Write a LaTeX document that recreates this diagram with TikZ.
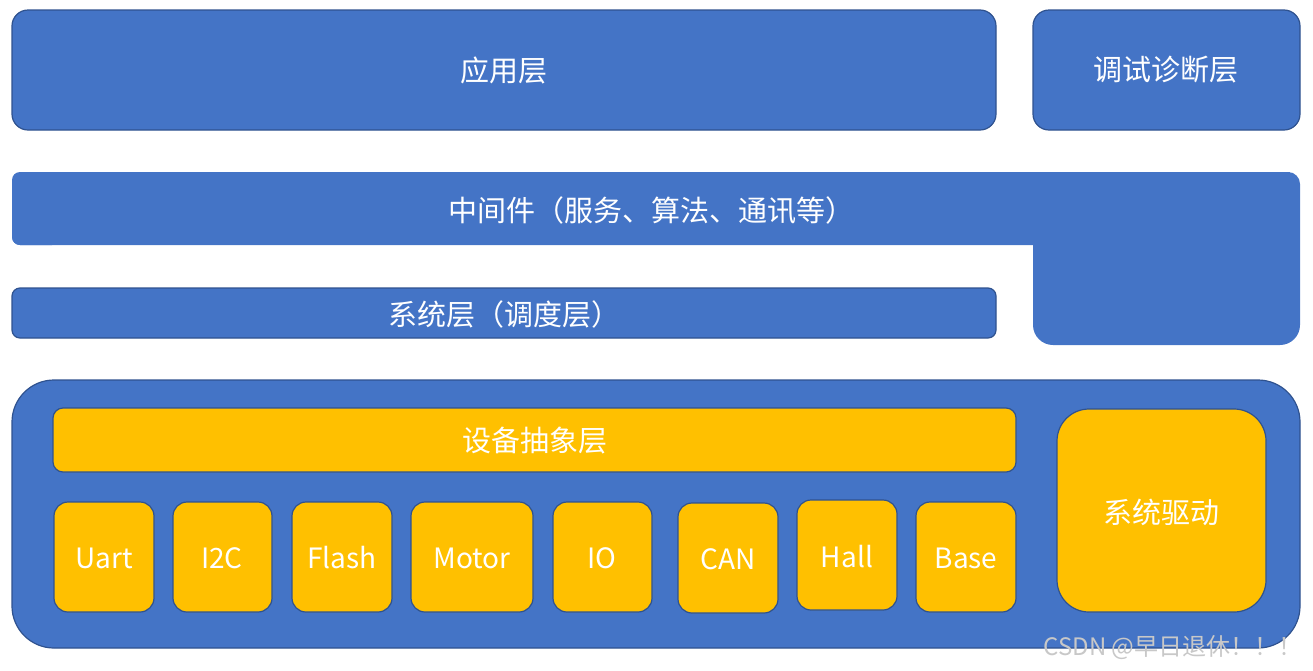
\documentclass[tikz,border=0pt]{standalone}
\usepackage{fontspec}
\setmainfont{Noto Sans CJK SC}
\begin{document}
\begin{tikzpicture}[x=1pt,y=-1pt,
  bluebox/.style={fill=appblue,draw=edgeblue,line width=1.2pt},
  orangebox/.style={fill=apporange,draw=edgeblue,line width=1.2pt},
  lbl/.style={text=white,font=\fontsize{29}{34}\selectfont},
  small/.style={text=white,font=\fontsize{28}{32}\selectfont},
  devbox/.style={orangebox,rounded corners=14pt}]
\definecolor{appblue}{RGB}{68,116,198}
\definecolor{apporange}{RGB}{255,192,0}
\definecolor{edgeblue}{RGB}{47,82,143}
\definecolor{wmgrey}{RGB}{200,200,200}
\useasboundingbox (0,0) rectangle (1313,670);
% top row
\draw[bluebox,rounded corners=16pt] (12,10) rectangle (996,130);
\node[lbl] (app) at (504,70) {应用层};
\draw[bluebox,rounded corners=16pt] (1033,10) rectangle (1300,130);
\node[lbl] (dbg) at (1166,70) {调试诊断层};
% middleware L shape
\fill[appblue] (1033,245) -- (1033,325) [rounded corners=20pt] -- (1033,345) -- (1300,345) [rounded corners=12pt] -- (1300,172) -- (12,172) [rounded corners=8pt] -- (12,245) [sharp corners] -- (1033,245);
\fill[appblue] (20,172) rectangle (1290,244.9);
\fill[appblue,rounded corners=8pt] (12,172) rectangle (60,245);
\node[lbl] (mid) at (651,210) {中间件（服务、算法、通讯等）};
% system layer
\draw[bluebox,rounded corners=8pt] (12,288) rectangle (996,338);
\node[lbl] (sys) at (504,314) {系统层（调度层）};
% bottom container
\draw[bluebox,rounded corners=42pt] (12,380) rectangle (1300,648);
\draw[orangebox,rounded corners=10pt] (53,408) rectangle (1016,472);
\node[lbl] (dal) at (535,441) {设备抽象层};
\draw[orangebox,rounded corners=32pt] (1057,409) rectangle (1266,612);
\node[lbl] (drv) at (1161,512) {系统驱动};
% device boxes
\draw[devbox] (54,502) rectangle (154,612);
\node[small] (uart) at (104,558) {Uart};
\draw[devbox] (173,502) rectangle (272,612);
\node[small] (i2c) at (222,558) {I2C};
\draw[devbox] (292,502) rectangle (392,612);
\node[small] (flash) at (342,558) {Flash};
\draw[devbox] (411,502) rectangle (533,612);
\node[small] (motor) at (472,558) {Motor};
\draw[devbox] (553,502) rectangle (652,612);
\node[small] (io) at (602,558) {IO};
\draw[devbox] (678,503) rectangle (778,613);
\node[small] (can) at (728,559) {CAN};
\draw[devbox] (797,500) rectangle (897,610);
\node[small] (hall) at (847,557) {Hall};
\draw[devbox] (916,502) rectangle (1016,612);
\node[small] (base) at (966,558) {Base};
% watermark
\node[anchor=east,text=wmgrey,font=\fontsize{24}{28}\selectfont] (wm) at (1306,648) {CSDN @早日退休！！！};
\end{tikzpicture}
\end{document}
